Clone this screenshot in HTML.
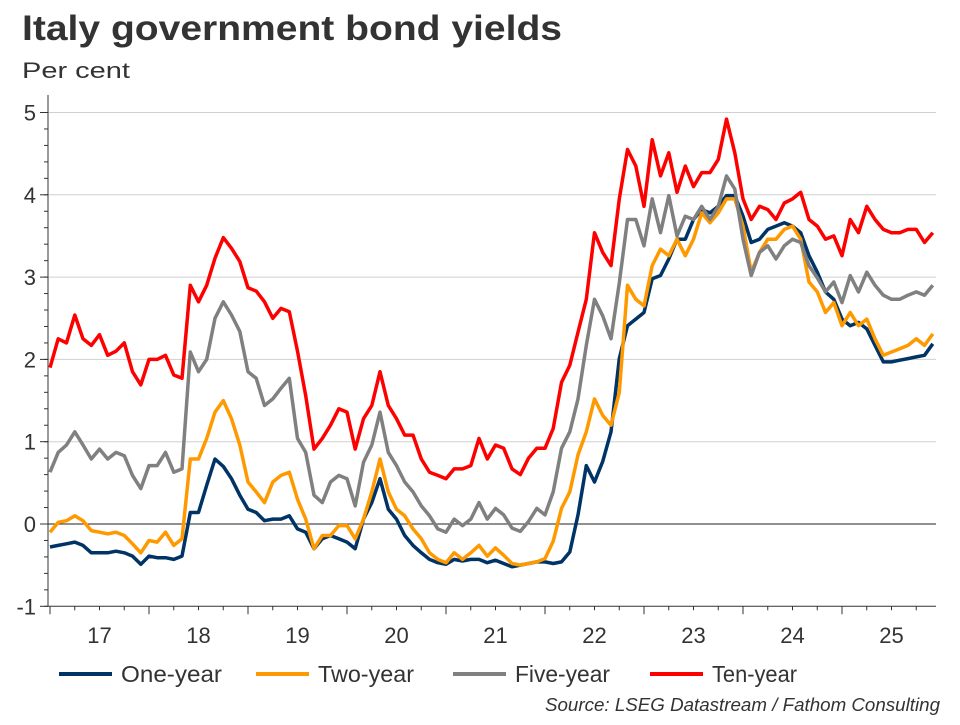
<!DOCTYPE html>
<html><head><meta charset="utf-8"><style>
body{margin:0;background:#fff;width:960px;height:720px;overflow:hidden;font-family:"Liberation Sans",Arial,sans-serif}
</style></head><body>
<svg id="chart" width="960" height="720" xmlns="http://www.w3.org/2000/svg" font-family="Liberation Sans, Arial, sans-serif">
<text x="22" y="40" font-size="35" font-weight="bold" fill="#333" textLength="540" lengthAdjust="spacingAndGlyphs">Italy government bond yields</text>
<text x="22" y="78" font-size="22" fill="#333" textLength="108" lengthAdjust="spacingAndGlyphs">Per cent</text>
<g id="grid"></g>
<g id="axes"></g>
<g id="series"></g>
<g id="legend"></g>
<text x="940" y="711" font-size="18" font-style="italic" fill="#333" text-anchor="end" textLength="395" lengthAdjust="spacingAndGlyphs">Source: LSEG Datastream / Fathom Consulting</text>
</svg>
<script>
const startYear = 2017;
const yTicks = [-1,0,1,2,3,4,5];
const xLabels = ["17","18","19","20","21","22","23","24","25"];
const seriesNames = ["One-year","Two-year","Five-year","Ten-year"];
const seriesColors = ["#003366","#ff9900","#808080","#ff0000"];
const oneYear = [-0.28,-0.26,-0.24,-0.22,-0.26,-0.35,-0.35,-0.35,-0.33,-0.35,-0.39,-0.49,
-0.39,-0.41,-0.41,-0.43,-0.39,0.14,0.14,0.47,0.79,0.7,0.55,0.35,
0.18,0.14,0.04,0.06,0.06,0.1,-0.06,-0.1,-0.3,-0.18,-0.14,-0.18,
-0.22,-0.3,0.06,0.26,0.55,0.18,0.06,-0.14,-0.26,-0.35,-0.43,-0.47,
-0.49,-0.43,-0.45,-0.43,-0.43,-0.47,-0.44,-0.48,-0.52,-0.5,-0.48,-0.46,
-0.46,-0.48,-0.46,-0.34,0.11,0.71,0.51,0.76,1.12,2.01,2.41,2.49,
2.57,2.98,3.02,3.22,3.46,3.46,3.7,3.82,3.78,3.86,3.99,3.99,
3.74,3.42,3.46,3.58,3.62,3.66,3.62,3.54,3.26,3.06,2.82,2.73,
2.49,2.41,2.45,2.37,2.17,1.97,1.97,1.99,2.01,2.03,2.05,2.19];
const twoYear = [-0.1,0.02,0.04,0.1,0.04,-0.08,-0.1,-0.12,-0.1,-0.14,-0.24,-0.35,
-0.2,-0.22,-0.1,-0.26,-0.18,0.79,0.79,1.04,1.36,1.5,1.28,0.96,
0.51,0.39,0.26,0.51,0.59,0.63,0.3,0.06,-0.3,-0.14,-0.14,-0.02,
-0.02,-0.18,0.06,0.39,0.79,0.39,0.18,0.1,-0.06,-0.18,-0.35,-0.43,
-0.47,-0.35,-0.43,-0.35,-0.26,-0.39,-0.29,-0.38,-0.48,-0.5,-0.48,-0.46,
-0.42,-0.21,0.19,0.39,0.84,1.12,1.52,1.32,1.2,1.6,2.9,2.73,
2.65,3.14,3.34,3.26,3.46,3.26,3.46,3.78,3.66,3.78,3.95,3.95,
3.62,3.06,3.3,3.46,3.46,3.58,3.62,3.46,2.94,2.82,2.57,2.69,
2.41,2.57,2.41,2.49,2.25,2.05,2.09,2.13,2.17,2.25,2.17,2.31];
const fiveYear = [0.63,0.87,0.96,1.12,0.96,0.79,0.91,0.79,0.87,0.83,0.59,0.43,
0.71,0.71,0.87,0.63,0.67,2.09,1.85,2.0,2.5,2.7,2.54,2.34,
1.85,1.77,1.44,1.52,1.65,1.77,1.04,0.87,0.35,0.26,0.51,0.59,
0.55,0.22,0.75,0.96,1.36,0.87,0.71,0.51,0.39,0.22,0.1,-0.06,
-0.1,0.06,-0.02,0.06,0.26,0.06,0.19,0.11,-0.05,-0.09,0.03,0.19,
0.11,0.39,0.92,1.12,1.52,2.17,2.73,2.53,2.25,2.93,3.7,3.7,
3.38,3.95,3.54,3.99,3.5,3.74,3.7,3.86,3.7,3.86,4.23,4.07,
3.46,3.02,3.3,3.38,3.22,3.38,3.46,3.42,3.14,2.99,2.82,2.94,
2.69,3.02,2.82,3.06,2.9,2.78,2.73,2.73,2.78,2.82,2.78,2.9];
const tenYear = [1.9,2.25,2.2,2.54,2.25,2.17,2.3,2.05,2.1,2.2,1.85,1.69,
2.0,2.0,2.05,1.81,1.77,2.9,2.7,2.9,3.23,3.48,3.35,3.19,
2.87,2.83,2.7,2.5,2.62,2.58,2.1,1.56,0.91,1.04,1.2,1.4,
1.36,0.91,1.28,1.44,1.85,1.44,1.28,1.08,1.08,0.79,0.63,0.59,
0.55,0.67,0.67,0.71,1.04,0.79,0.96,0.92,0.67,0.6,0.8,0.92,
0.92,1.16,1.72,1.93,2.33,2.73,3.54,3.3,3.14,3.95,4.55,4.35,
3.86,4.67,4.23,4.51,4.03,4.35,4.1,4.27,4.27,4.43,4.92,4.51,
3.95,3.7,3.86,3.82,3.7,3.9,3.95,4.03,3.7,3.62,3.46,3.5,
3.26,3.7,3.54,3.86,3.7,3.58,3.54,3.54,3.58,3.58,3.42,3.54];
const allSeries = [oneYear,twoYear,fiveYear,tenYear];

const NS="http://www.w3.org/2000/svg";
const X0=50, PXY=99, Y0=524, PXV=82.3, LEFT=48, RIGHT=936;
function xs(t){return X0+(t-startYear)*PXY;}
function ys(v){return Y0-v*PXV;}
function mk(tag,attrs,parent){const e=document.createElementNS(NS,tag);for(const k in attrs)e.setAttribute(k,attrs[k]);parent.appendChild(e);return e;}
const grid=document.getElementById('grid'), axes=document.getElementById('axes'), ser=document.getElementById('series'), leg=document.getElementById('legend');

yTicks.forEach(v=>{
  if(v>0){const g=mk('line',{x1:LEFT,x2:RIGHT,y1:ys(v),y2:ys(v),stroke:'#d0d0d0','stroke-width':1},grid);
  
  }
  const t=mk('text',{x:36,y:ys(v)+8,'font-size':22,fill:'#333','text-anchor':'end'},axes);
  t.textContent=v;
  
  
  mk('line',{x1:LEFT-8,x2:LEFT,y1:ys(v),y2:ys(v),stroke:'#333','stroke-width':1},axes);
});
for(let v=-1;v<=5.01;v+=0.2){mk('line',{x1:LEFT-4,x2:LEFT,y1:ys(v),y2:ys(v),stroke:'#333','stroke-width':1},axes);}
const yaxis=mk('line',{x1:LEFT,x2:LEFT,y1:95,y2:ys(-1),stroke:'#333','stroke-width':1},axes);


const zl=mk('line',{x1:LEFT,x2:RIGHT,y1:ys(0),y2:ys(0),stroke:'#222','stroke-width':1},axes);


const xaxis=mk('line',{x1:LEFT,x2:RIGHT,y1:ys(-1),y2:ys(-1),stroke:'#333','stroke-width':1},axes);


for(let q=0;q<=36;q++){const t=startYear+q/4;const x=xs(t);if(x<LEFT||x>RIGHT)continue;
  mk('line',{x1:x,x2:x,y1:ys(-1),y2:ys(-1)+(q%4==0?8:4),stroke:'#333','stroke-width':1},axes);}
xLabels.forEach((lab,i)=>{
  const t=mk('text',{x:xs(startYear+i+0.5),y:643,'font-size':22,fill:'#333','text-anchor':'middle'},axes);
  t.textContent=lab;
  
  
});
allSeries.forEach((arr,si)=>{
  const d=arr.map((v,i)=>(i?'L':'M')+xs(startYear+i/12).toFixed(1)+','+ys(v).toFixed(1)).join(' ');
  const p=mk('path',{d:d,fill:'none',stroke:seriesColors[si],'stroke-width':3.5,'stroke-linejoin':'round'},ser);
  
  
});
const legX=[59,256,453,650];
const legW=[101,96,95,85];
seriesNames.forEach((n,i)=>{
  const l=mk('line',{x1:legX[i],x2:legX[i]+53,y1:674,y2:674,stroke:seriesColors[i],'stroke-width':4},leg);
  
  
  const t=mk('text',{x:legX[i]+62,y:682,'font-size':23,fill:'#333',textLength:legW[i],lengthAdjust:'spacingAndGlyphs'},leg);
  t.textContent=n;
  
  
});
</script>
</body></html>
